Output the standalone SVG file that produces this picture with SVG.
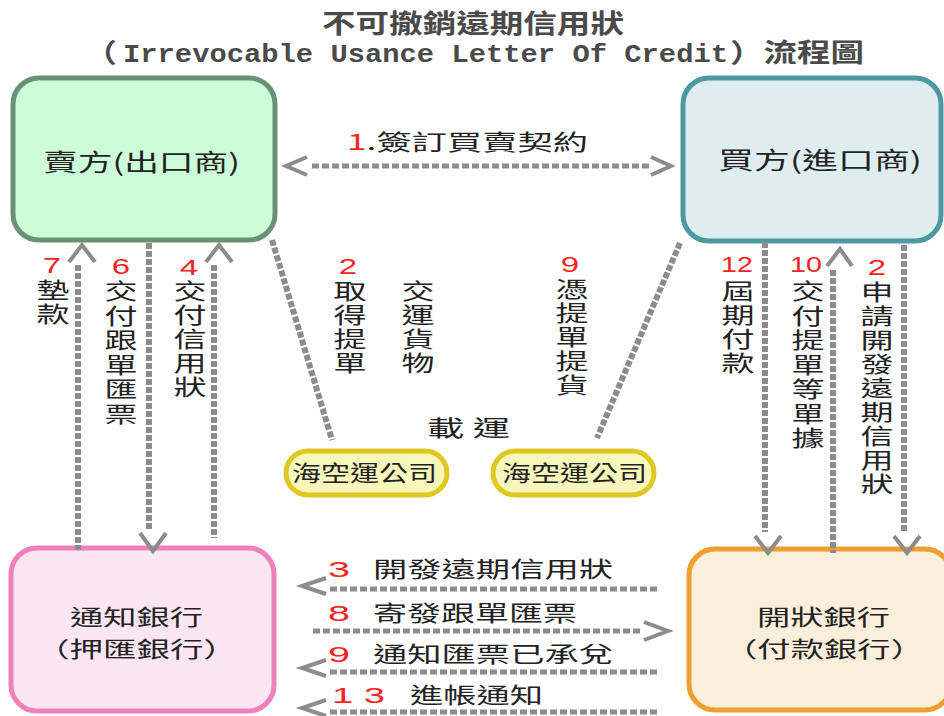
<svg xmlns="http://www.w3.org/2000/svg" width="944" height="716" viewBox="0 0 944 716">
<style>
.t{font-family:"Noto Sans CJK TC","Noto Sans CJK SC",sans-serif;fill:#222}
.title{font-family:"Noto Sans CJK TC",sans-serif;font-weight:bold;fill:#4a4a4a;font-size:26px}
.mono{font-family:"Liberation Mono","DejaVu Sans Mono",monospace;font-weight:bold;fill:#4a4a4a;font-size:26px}
.box{font-size:24px}
.bank{font-size:21.5px}
.lab{font-size:22px}
.v{font-size:22px;writing-mode:vertical-rl;text-orientation:upright}
.num{font-family:"Liberation Sans","DejaVu Sans",sans-serif;fill:#ff2020;font-size:22px;text-anchor:middle}
.numh{font-family:"Liberation Sans","DejaVu Sans",sans-serif;fill:#ff2020;font-size:22px}
.ln{fill:none;stroke:#8c8c8c;stroke-width:6;stroke-dasharray:6 2}
.lh{fill:none;stroke:#8c8c8c;stroke-width:5;stroke-dasharray:7 3}
.hd{fill:none;stroke:#8c8c8c;stroke-width:4;stroke-linejoin:miter;stroke-linecap:butt}
</style>

<g id="title">
<text class="title" x="322" y="33" textLength="302" lengthAdjust="spacingAndGlyphs">不可撤銷遠期信用狀</text>
<text class="title" x="84" y="62" textLength="33" lengthAdjust="spacingAndGlyphs">（</text>
<text class="mono" x="123" y="62" textLength="605" lengthAdjust="spacingAndGlyphs">Irrevocable Usance Letter Of Credit</text>
<text class="title" x="730" y="62" textLength="134" lengthAdjust="spacingAndGlyphs">）流程圖</text>
</g>

<g id="seller">
<rect x="13" y="78" width="262" height="162" rx="26" fill="#ccfcd8" stroke="#6a9272" stroke-width="5"/>
<text class="t box" x="43" y="171" textLength="197" lengthAdjust="spacingAndGlyphs">賣方(出口商)</text>
</g>

<g id="buyer">
<rect x="683" y="78" width="258" height="163" rx="26" fill="#deeef0" stroke="#4a9aa0" stroke-width="5"/>
<text class="t box" x="718" y="169" textLength="204" lengthAdjust="spacingAndGlyphs">買方(進口商)</text>
</g>

<g id="advising-bank">
<rect x="11" y="548" width="263" height="163" rx="26" fill="#fbe6f2" stroke="#ee80bb" stroke-width="5"/>
<text class="t bank" x="70" y="625" textLength="133" lengthAdjust="spacingAndGlyphs">通知銀行</text>
<text class="t bank" x="36" y="657" textLength="201" lengthAdjust="spacingAndGlyphs">（押匯銀行）</text>
</g>

<g id="issuing-bank">
<rect x="689" y="549" width="262" height="161" rx="26" fill="#fbeedb" stroke="#eda030" stroke-width="5"/>
<text class="t bank" x="757" y="625" textLength="133" lengthAdjust="spacingAndGlyphs">開狀銀行</text>
<text class="t bank" x="724" y="657" textLength="200" lengthAdjust="spacingAndGlyphs">（付款銀行）</text>
</g>

<g id="carrier-1">
<rect x="286" y="451" width="161" height="44" rx="22" fill="#f7f7bc" stroke="#e0c822" stroke-width="5"/>
<text class="t lab" x="292" y="481" textLength="145" lengthAdjust="spacingAndGlyphs">海空運公司</text>
</g>

<g id="carrier-2">
<rect x="493" y="451" width="161" height="44" rx="22" fill="#f7f7bc" stroke="#e0c822" stroke-width="5"/>
<text class="t lab" x="502" y="481" textLength="145" lengthAdjust="spacingAndGlyphs">海空運公司</text>
</g>

<g id="connectors">
<line class="lh" x1="312" y1="166" x2="650" y2="166"/>
<polyline class="hd" points="307,157 286,166 307,175"/>
<polyline class="hd" points="651,157 671,166 651,175"/>
<line class="ln" x1="78" y1="265" x2="78" y2="550"/>
<polyline class="hd" points="69,262 82,245 95,262"/>
<line class="ln" x1="149" y1="243" x2="149" y2="530"/>
<polyline class="hd" points="140,533 153,551 166,533"/>
<line class="ln" x1="214" y1="265" x2="214" y2="538"/>
<polyline class="hd" points="206,262 219,245 232,262"/>
<line class="ln" x1="765" y1="242" x2="765" y2="532"/>
<polyline class="hd" points="755,536 768,553 781,536"/>
<line class="ln" x1="833" y1="270" x2="833" y2="553"/>
<polyline class="hd" points="827,266 840,249 852,266"/>
<line class="ln" x1="904" y1="245" x2="904" y2="532"/>
<polyline class="hd" points="894,536 907,553 920,536"/>
<line class="ln" x1="272" y1="240" x2="332" y2="440"/>
<line class="ln" x1="680" y1="243" x2="597" y2="438"/>
<line class="lh" x1="330" y1="589" x2="657" y2="589"/>
<polyline class="hd" points="326,578 302,586 326,594"/>
<line class="lh" x1="313" y1="631" x2="640" y2="631"/>
<polyline class="hd" points="644,622 668,631 644,640"/>
<line class="lh" x1="330" y1="672" x2="657" y2="672"/>
<polyline class="hd" points="326,660 302,668 326,676"/>
<line class="lh" x1="330" y1="712" x2="657" y2="712"/>
<polyline class="hd" points="326,700 302,708 326,716"/>
</g>

<g id="labels">
<text class="t lab" x="347" y="150" font-size="24" textLength="241" lengthAdjust="spacingAndGlyphs"><tspan fill="#ff2020">1</tspan>.簽訂買賣契約</text>

<text class="num" transform="translate(52,0) scale(1.5,1)" x="0" y="273">7</text>
<text class="t v" transform="translate(53,0) scale(1.5,1)"><tspan x="0" y="279">墊</tspan><tspan x="0" y="303">款</tspan></text>

<text class="num" transform="translate(121,0) scale(1.5,1)" x="0" y="274">6</text>
<text class="t v" transform="translate(121,0) scale(1.5,1)"><tspan x="0" y="280">交</tspan><tspan x="0" y="304.5">付</tspan><tspan x="0" y="329">跟</tspan><tspan x="0" y="353.5">單</tspan><tspan x="0" y="378">匯</tspan><tspan x="0" y="402.5">票</tspan></text>

<text class="num" transform="translate(189,0) scale(1.5,1)" x="0" y="275">4</text>
<text class="t v" transform="translate(190,0) scale(1.5,1)"><tspan x="0" y="280">交</tspan><tspan x="0" y="304">付</tspan><tspan x="0" y="328">信</tspan><tspan x="0" y="352">用</tspan><tspan x="0" y="376">狀</tspan></text>

<text class="num" transform="translate(348,0) scale(1.5,1)" x="0" y="274">2</text>
<text class="t v" transform="translate(350,0) scale(1.5,1)"><tspan x="0" y="280">取</tspan><tspan x="0" y="304">得</tspan><tspan x="0" y="328">提</tspan><tspan x="0" y="352">單</tspan></text>
<text class="t v" transform="translate(418,0) scale(1.5,1)"><tspan x="0" y="280">交</tspan><tspan x="0" y="304">運</tspan><tspan x="0" y="328">貨</tspan><tspan x="0" y="352">物</tspan></text>

<text class="num" transform="translate(570,0) scale(1.5,1)" x="0" y="272">9</text>
<text class="t v" transform="translate(572,0) scale(1.5,1)"><tspan x="0" y="278">憑</tspan><tspan x="0" y="302">提</tspan><tspan x="0" y="326">單</tspan><tspan x="0" y="350">提</tspan><tspan x="0" y="374">貨</tspan></text>

<text class="t lab" x="427" y="436" font-size="24" textLength="83" lengthAdjust="spacingAndGlyphs">載 運</text>

<text class="num" transform="translate(737,0) scale(1.3,1)" x="0" y="272">12</text>
<text class="t v" transform="translate(738,0) scale(1.5,1)"><tspan x="0" y="280">屆</tspan><tspan x="0" y="304">期</tspan><tspan x="0" y="328">付</tspan><tspan x="0" y="352">款</tspan></text>

<text class="num" transform="translate(806,0) scale(1.3,1)" x="0" y="272">10</text>
<text class="t v" transform="translate(808,0) scale(1.5,1)"><tspan x="0" y="280">交</tspan><tspan x="0" y="304.5">付</tspan><tspan x="0" y="329">提</tspan><tspan x="0" y="353.5">單</tspan><tspan x="0" y="378">等</tspan><tspan x="0" y="402.5">單</tspan><tspan x="0" y="427">據</tspan></text>

<text class="num" transform="translate(877,0) scale(1.5,1)" x="0" y="275">2</text>
<text class="t v" transform="translate(877,0) scale(1.5,1)"><tspan x="0" y="281">申</tspan><tspan x="0" y="305">請</tspan><tspan x="0" y="329">開</tspan><tspan x="0" y="353">發</tspan><tspan x="0" y="377">遠</tspan><tspan x="0" y="401">期</tspan><tspan x="0" y="425">信</tspan><tspan x="0" y="449">用</tspan><tspan x="0" y="473">狀</tspan></text>

<text class="numh" x="328" y="577" textLength="22" lengthAdjust="spacingAndGlyphs">3</text>
<text class="t lab" x="373" y="577" textLength="240" lengthAdjust="spacingAndGlyphs">開發遠期信用狀</text>
<text class="numh" x="328" y="621" textLength="22" lengthAdjust="spacingAndGlyphs">8</text>
<text class="t lab" x="373" y="621" textLength="204" lengthAdjust="spacingAndGlyphs">寄發跟單匯票</text>
<text class="numh" x="328" y="662" textLength="22" lengthAdjust="spacingAndGlyphs">9</text>
<text class="t lab" x="373" y="662" textLength="240" lengthAdjust="spacingAndGlyphs">通知匯票已承兌</text>
<text class="numh" x="332" y="703" textLength="53" lengthAdjust="spacingAndGlyphs">1 3</text>
<text class="t lab" x="410" y="703" textLength="133" lengthAdjust="spacingAndGlyphs">進帳通知</text>
</g>
</svg>
